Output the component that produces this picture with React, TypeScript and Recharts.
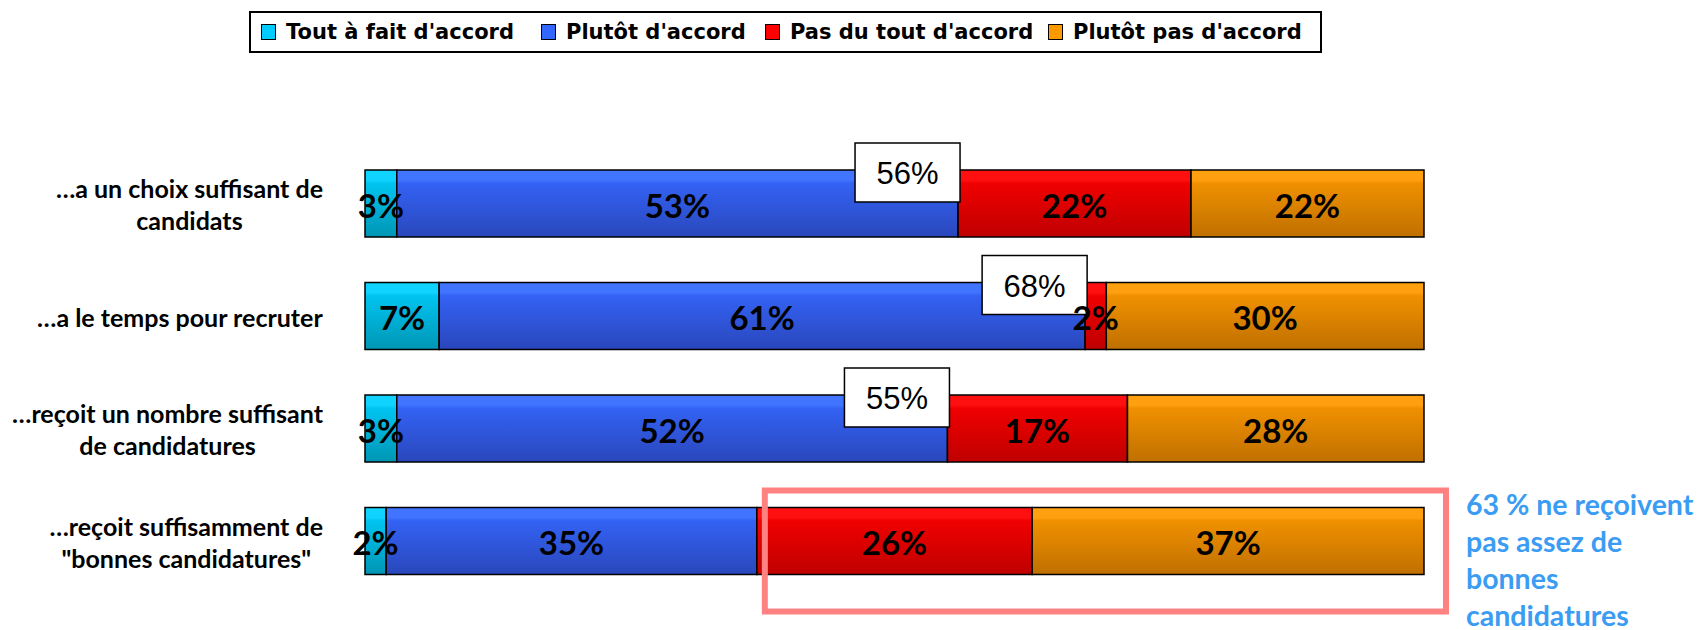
import React from 'react';
import { BarChart, Bar, XAxis, YAxis, LabelList, Legend } from 'recharts';

// ---- data ----
const categories = [
  '…a un choix suffisant de\ncandidats',
  '…a le temps pour recruter',
  '…reçoit un nombre suffisant\nde candidatures',
  '…reçoit suffisamment de\n"bonnes candidatures"',
];
const toutAFait = [3, 7, 3, 2];
const plutotAccord = [53, 61, 52, 35];
const pasDuTout = [22, 2, 17, 26];
const plutotPas = [22, 30, 28, 37];
const agreeTotals: (number | null)[] = [56, 68, 55, null];
const seriesNames = ["Tout à fait d'accord", "Plutôt d'accord", "Pas du tout d'accord", "Plutôt pas d'accord"];
const calloutLines = ['63 % ne reçoivent', 'pas assez de', 'bonnes', 'candidatures'];
const calloutRow = 3;

const seriesKeys = ['a', 'b', 'c', 'd'];
const seriesColors = ['#00ccff', '#3366ff', '#ff0000', '#ff9900'];
const gradients = [
  ['#10d4ff', '#00c4f0', '#0096b4'],
  ['#4174ff', '#3362f4', '#2a47bb'],
  ['#ff1010', '#f00000', '#bf0000'],
  ['#ffa010', '#f09000', '#bf7000'],
];

const data = categories.map((cat, i) => ({
  cat,
  a: toutAFait[i],
  b: plutotAccord[i],
  c: pasDuTout[i],
  d: plutotPas[i],
  total: agreeTotals[i],
}));

const pct = (v: any) => `${v}%`;

let measureCtx: CanvasRenderingContext2D | null = null;
const measure = (s: string, font: string) => {
  try {
    if (!measureCtx) measureCtx = document.createElement('canvas').getContext('2d');
    if (measureCtx) {
      measureCtx.font = font;
      return measureCtx.measureText(s).width;
    }
  } catch (e) {}
  return s.length * 12;
};

const CatTick = (props: any) => {
  const { x, y, payload } = props;
  const lines = String(payload.value).split('\n');
  const font = '700 25px Lato';
  const w = Math.max(...lines.map((l) => measure(l, font)));
  const cx = x - w / 2;
  return (
    <g>
      {lines.map((l, i) => (
        <text
          key={i}
          x={cx}
          y={y + 11 + (i - (lines.length - 1) / 2) * 32}
          textAnchor="middle"
          fontFamily="Lato"
          fontWeight={700}
          fontSize={25}
          fill="#000"
        >
          {l}
        </text>
      ))}
    </g>
  );
};

const getBox = (props: any) => {
  const vb = props.viewBox || props;
  return { x: Number(vb.x), y: Number(vb.y), width: Number(vb.width), height: Number(vb.height) };
};

const ValueLabel = (props: any) => {
  const { x, y, width, height } = getBox(props);
  if (props.value == null) return null;
  return (
    <text
      x={x + width / 2}
      y={y + height / 2 + 14}
      textAnchor="middle"
      fontFamily="Lato"
      fontWeight={700}
      fontSize={33}
      fill="#000"
    >
      {pct(props.value)}
    </text>
  );
};

const TotalBox = (props: any) => {
  const { x, y, width } = getBox(props);
  const v = props.value;
  if (v == null) return null;
  const right = x + width + 2;
  const bw = 105;
  const bh = 59;
  const top = y - 27;
  return (
    <g>
      <rect x={right - bw} y={top} width={bw} height={bh} fill="#fff" stroke="#000" strokeWidth={1.5} />
      <text
        x={right - bw / 2}
        y={top + 41}
        textAnchor="middle"
        fontFamily="Liberation Sans, Arial, sans-serif"
        fontSize={31}
        fill="#000"
      >
        {pct(v)}
      </text>
    </g>
  );
};

const Callout = (props: any) => {
  const { x, y, width, height } = getBox(props);
  if (props.index !== calloutRow) return null;
  const pxPerUnit = width / plutotPas[calloutRow];
  const redStart = x - pxPerUnit * pasDuTout[calloutRow];
  const end = x + width;
  const left = redStart + 8;
  const right = end + 22;
  const top = y - 17;
  const bottom = y + height + 37;
  return (
    <g>
      <rect x={left} y={top} width={right - left} height={bottom - top} fill="none" stroke="#ff8282" strokeWidth={6} />
      {calloutLines.map((l, i) => (
        <text
          key={i}
          x={end + 42}
          y={y + 7 + i * 37}
          fontFamily="Lato"
          fontWeight={700}
          fontSize={28.5}
          fill="#3b9cf3"
        >
          {l}
        </text>
      ))}
    </g>
  );
};

const legendSquareLeft = [10, 290, 514, 797];

const LegendBox = () => (
  <div
    style={{
      position: 'relative',
      width: 1073,
      height: 42,
      border: '2px solid #000',
      boxSizing: 'border-box',
      background: '#fff',
      fontFamily: '"DejaVu Sans", sans-serif',
      fontWeight: 700,
      fontSize: 21,
      color: '#000',
    }}
  >
    {seriesNames.map((n, i) => (
      <div
        key={n}
        style={{
          position: 'absolute',
          left: legendSquareLeft[i],
          top: 0,
          height: 38,
          display: 'flex',
          alignItems: 'center',
          whiteSpace: 'nowrap',
        }}
      >
        <span
          style={{
            display: 'inline-block',
            width: 15,
            height: 16,
            background: seriesColors[i],
            border: '1.5px solid #000',
            boxSizing: 'border-box',
            marginRight: 10,
          }}
        />
        <span>{n}</span>
      </div>
    ))}
  </div>
);

export default function App() {
  return (
    <div style={{ width: 1700, height: 622, background: '#fff' }}>
      <BarChart
        width={1700}
        height={622}
        data={data}
        layout="vertical"
        margin={{ top: 139, right: 284, bottom: 33, left: 0 }}
        barSize={67}
      >
        <defs>
          {gradients.map((g, i) => (
            <linearGradient key={i} id={`grad${i}`} x1="0" y1="0" x2="0" y2="1">
              <stop offset="0%" stopColor={g[0]} />
              <stop offset="15%" stopColor={g[0]} />
              <stop offset="20%" stopColor={g[1]} />
              <stop offset="100%" stopColor={g[2]} />
            </linearGradient>
          ))}
        </defs>
        <XAxis type="number" domain={[0, 100]} hide />
        <YAxis
          yAxisId="main"
          type="category"
          dataKey="cat"
          width={357}
          tickSize={0}
          tickMargin={42}
          axisLine={false}
          tickLine={false}
          tick={<CatTick />}
          interval={0}
        />
        <YAxis yAxisId="over" type="category" dataKey="cat" hide />
        <Legend
          layout="horizontal"
          align="center"
          verticalAlign="middle"
          wrapperStyle={{ top: 3, left: 241, width: 1073, height: 42 }}
          content={() => <LegendBox />}
        />
        {seriesKeys.map((k, i) => (
          <Bar
            key={k}
            yAxisId="main"
            dataKey={k}
            name={seriesNames[i]}
            stackId="main"
            fill={`url(#grad${i})`}
            stroke="#000"
            strokeWidth={1.5}
            isAnimationActive={false}
          />
        ))}
        {seriesKeys.map((k, i) => (
          <Bar
            key={`o${k}`}
            yAxisId="over"
            dataKey={k}
            stackId="over"
            fill="transparent"
            legendType="none"
            isAnimationActive={false}
          >
            <LabelList dataKey={k} content={<ValueLabel />} />
            {k === 'b' && <LabelList dataKey="total" content={<TotalBox />} />}
            {k === 'd' && <LabelList dataKey={k} content={<Callout />} />}
          </Bar>
        ))}
      </BarChart>
    </div>
  );
}
